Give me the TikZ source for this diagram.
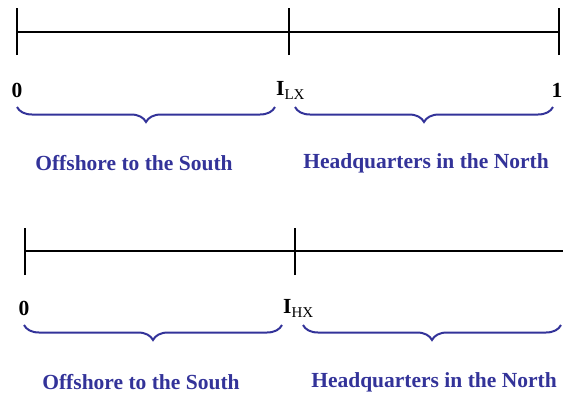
\documentclass[tikz,border=0pt]{standalone}
\usepackage{fontspec}
\setmainfont{Liberation Serif}
\usetikzlibrary{decorations.pathreplacing}
\definecolor{bracecol}{RGB}{51,51,153}
\begin{document}
\begin{tikzpicture}[x=1pt,y=-1pt,
  axis/.style={line width=2.3pt,black},
  brc/.style={draw=bracecol,line width=2pt,decorate,decoration={brace,amplitude=15pt,mirror}},
  num/.style={font=\fontsize{21.5}{22}\selectfont\bfseries,inner sep=0pt},
  lab/.style={font=\fontsize{21.5}{22}\selectfont\bfseries,text=bracecol,inner sep=0pt}]
\clip (0,0) rectangle (563,392);
\useasboundingbox (0,0) rectangle (563,392);
% top line
\coordinate (a0) at (17,32);
\coordinate (a1) at (289,32);
\coordinate (a2) at (559,32);
\draw[axis] (a0) -- (a2);
\foreach \p in {a0,a1,a2} \draw[axis] ([yshift=-23pt]\p) -- ([yshift=24pt]\p);
\node[num] (z0) at (17,90) {0};
\node[num,anchor=west] (il) at (276,90) {I\raisebox{-0.4ex}{\fontsize{15}{15}\selectfont\mdseries LX}};
\node[num] (o0) at (557,90) {1};
\coordinate (b1s) at (17,107);
\coordinate (b1e) at (275,107);
\coordinate (b2s) at (295,107);
\coordinate (b2e) at (553,107);
\draw[brc] (b1s) -- (b1e);
\draw[brc] (b2s) -- (b2e);
\node[lab] (t1) at (134,163) {Offshore to the South};
\node[lab] (t2) at (426,163) {Headquarters in the North};
% bottom line
\coordinate (c0) at (25,251);
\coordinate (c1) at (295,251);
\coordinate (c2) at (570,251);
\draw[axis] (c0) -- (c2);
\foreach \p in {c0,c1} \draw[axis] ([yshift=-24pt]\p) -- ([yshift=23pt]\p);
\node[num] (z1) at (24,308) {0};
\node[num,anchor=west] (ih) at (283,308) {I\raisebox{-0.4ex}{\fontsize{15}{15}\selectfont\mdseries HX}};
\node[num] (o1) at (567,305) {1};
\coordinate (d1s) at (24,325);
\coordinate (d1e) at (282,325);
\coordinate (d2s) at (303,325);
\coordinate (d2e) at (561,325);
\draw[brc] (d1s) -- (d1e);
\draw[brc] (d2s) -- (d2e);
\node[lab] (t3) at (141,382) {Offshore to the South};
\node[lab] (t4) at (434,382) {Headquarters in the North};
\end{tikzpicture}
\end{document}
